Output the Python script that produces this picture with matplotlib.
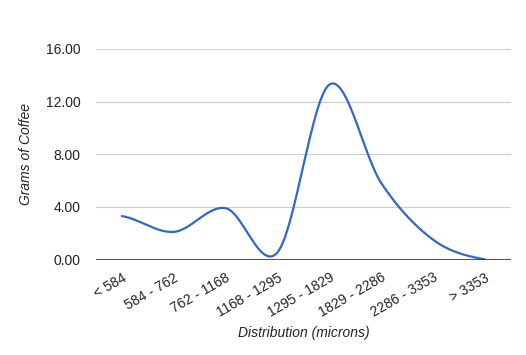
import numpy as np
import matplotlib.pyplot as plt

plt.rcParams['font.family'] = ['Liberation Sans', 'DejaVu Sans']

categories = ['< 584', '584 - 762', '762 - 1168', '1168 - 1295',
              '1295 - 1829', '1829 - 2286', '2286 - 3353', '> 3353']
grams = [3.3, 2.1, 3.9, 0.55, 13.3, 5.8, 1.5, 0.0]
yticks = [0, 4, 8, 12, 16]


def smooth(x, y, n=30):
    # catmull-rom through the points
    x = np.asarray(x, float)
    y = np.asarray(y, float)
    px = np.concatenate([[2 * x[0] - x[1]], x, [2 * x[-1] - x[-2]]])
    py = np.concatenate([[y[0]], y, [y[-1]]])
    xs, ys = [], []
    for i in range(1, len(px) - 2):
        t = np.linspace(0, 1, n)
        for p, out in ((px, xs), (py, ys)):
            p0, p1, p2, p3 = p[i - 1], p[i], p[i + 1], p[i + 2]
            out.append(0.5 * (2 * p1 + (-p0 + p2) * t
                              + (2 * p0 - 5 * p1 + 4 * p2 - p3) * t ** 2
                              + (-p0 + 3 * p1 - 3 * p2 + p3) * t ** 3))
    return np.concatenate(xs), np.concatenate(ys)


fig = plt.figure(figsize=(5.26, 3.55), dpi=100)
ax = fig.add_axes([96 / 526, 1 - 259.5 / 355, 415 / 526, 210.5 / 355])

pos = np.arange(len(categories))
sx, sy = smooth(pos, grams)
ax.plot(sx, sy, color='#3366cc', lw=1.6, solid_capstyle='round', zorder=3)

ax.set_xlim(-0.5, len(categories) - 0.5)
ax.set_ylim(0, 16)
ax.set_yticks(yticks)
ax.set_yticklabels(['%.2f' % v for v in yticks])
ax.grid(axis='y', color='#cccccc', lw=0.8)
ax.axhline(0, color='#333333', lw=1.2, zorder=4)
for s in ax.spines.values():
    s.set_visible(False)
ax.tick_params(axis='both', length=0, labelsize=10, labelcolor='#222222')
ax.tick_params(axis='y', pad=11)

ax.set_xticks(pos)
ax.set_xticklabels(categories, rotation=30, ha='right', rotation_mode='anchor')
ax.tick_params(axis='x', pad=8)

ax.set_xlabel('Distribution (microns)', fontstyle='italic', fontsize=10,
              color='#222222', labelpad=4)
ax.set_ylabel('Grams of Coffee', fontstyle='italic', fontsize=10,
              color='#222222', labelpad=9)

fig.savefig('out.png', dpi=100)
